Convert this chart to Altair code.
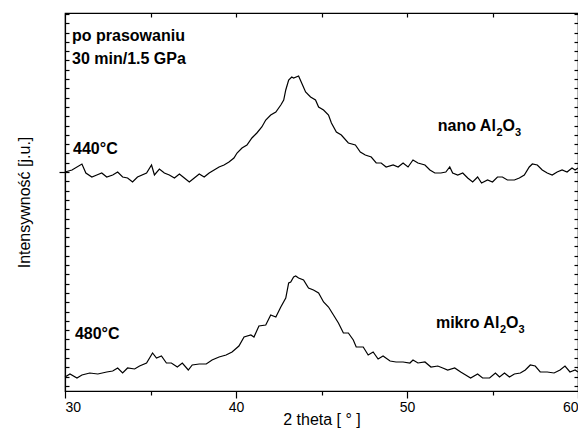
import altair as alt
import pandas as pd

# ---- data (2theta in degrees, intensity in arbitrary units) ----
theta_nano = [30.00, 30.41, 30.99, 31.22, 31.57, 31.86, 32.15, 32.44, 32.79, 33.08, 33.37, 33.66,
              33.95, 34.24, 34.77, 35.06, 35.23, 35.52, 35.81, 36.10, 36.40, 36.69, 36.98, 37.27,
              37.56, 37.85, 38.14, 38.43, 38.72, 39.01, 39.30, 39.59, 39.88, 40.06, 40.35, 40.64,
              40.93, 41.22, 41.51, 41.74, 42.03, 42.33, 42.62, 42.79, 42.91, 43.08, 43.26, 43.37,
              43.66, 43.84, 44.07, 44.36, 44.65, 44.83, 45.12, 45.41, 45.58, 45.87, 46.16, 46.57,
              46.98, 47.27, 47.56, 47.91, 48.20, 48.49, 48.78, 49.19, 49.48, 49.77, 50.06, 50.35,
              50.64, 51.05, 51.34, 51.63, 51.98, 52.27, 52.50, 52.67, 52.97, 53.26, 53.55, 53.84,
              54.13, 54.36, 54.71, 55.00, 55.29, 55.58, 55.87, 56.28, 56.57, 56.86, 57.15, 57.33,
              57.62, 57.91, 58.20, 58.49, 58.78, 59.07, 59.36, 59.65, 59.83, 60.00]
int_nano = [219, 221, 227, 218, 214, 216, 218, 214, 216, 219, 214, 213,
            209, 214, 218, 226, 216, 222, 218, 216, 213, 217, 213, 209,
            213, 217, 214, 218, 221, 224, 226, 229, 233, 238, 243, 246,
            253, 258, 264, 271, 276, 279, 286, 291, 301, 311, 314, 313,
            315, 308, 299, 294, 291, 284, 281, 276, 268, 259, 256, 248,
            246, 239, 236, 234, 228, 228, 224, 226, 224, 228, 224, 231,
            228, 226, 221, 218, 218, 219, 224, 218, 216, 218, 213, 209,
            214, 208, 211, 209, 214, 214, 211, 211, 213, 216, 224, 227,
            226, 221, 218, 216, 219, 221, 219, 223, 221, 223]

theta_mikro = [30.00, 30.29, 30.70, 30.99, 31.45, 31.92, 32.44, 32.79, 33.08, 33.37, 33.66, 34.07,
               34.36, 34.77, 35.12, 35.35, 35.64, 35.93, 36.22, 36.57, 36.86, 37.21, 37.44, 37.85,
               38.26, 38.60, 39.01, 39.42, 39.77, 40.17, 40.47, 40.87, 41.05, 41.34, 41.74, 42.03,
               42.33, 42.62, 42.91, 43.08, 43.20, 43.37, 43.49, 43.66, 43.95, 44.24, 44.53, 44.83,
               45.12, 45.41, 45.70, 45.99, 46.28, 46.57, 46.86, 47.03, 47.44, 47.73, 48.02, 48.31,
               48.60, 49.01, 49.36, 49.77, 50.17, 50.35, 50.64, 51.05, 51.40, 51.80, 52.09, 52.38,
               52.79, 53.14, 53.43, 53.72, 54.13, 54.42, 54.83, 55.17, 55.41, 55.70, 55.99, 56.28,
               56.63, 56.92, 57.21, 57.50, 57.79, 58.20, 58.60, 58.95, 59.24, 59.53, 59.83, 60.00]
int_mikro = [14, 17, 13, 16, 18, 17, 19, 20, 23, 18, 23, 22,
             25, 28, 38, 33, 35, 28, 28, 24, 28, 21, 26, 27,
             27, 31, 34, 36, 39, 45, 54, 56, 54, 65, 66, 76,
             74, 84, 93, 108, 109, 114, 115, 113, 111, 103, 101, 98,
             89, 84, 76, 68, 58, 58, 51, 44, 44, 36, 39, 32,
             35, 30, 29, 29, 28, 31, 28, 29, 24, 25, 23, 21,
             23, 19, 16, 13, 17, 13, 13, 18, 14, 18, 14, 17,
             18, 21, 26, 25, 19, 19, 18, 21, 25, 19, 21, 19]

series_names = ["nano", "mikro"]

# axis tick values
x_major = [30, 40, 50, 60]
x_minor = [35, 45, 55]
x_top = [35, 40, 45, 50, 55]
y_major = [219]
y_minor = [round(219 + 9.3 * k, 1) for k in range(-23, 18)]

# annotations: plain labels
label_text = ["po prasowaniu", "30 min/1.5 GPa", "440°C", "480°C"]
label_x = [30.41, 30.41, 30.47, 30.58]
label_y = [350, 327, 237, 52]

# annotations with chemical formula (prefix, subscripts drawn smaller and lower)
formula_prefix = ["nano Al", "mikro Al"]
formula_x = [51.80, 51.69]
formula_y = [260, 63]

PLOT_W, PLOT_H = 513, 378
FONT = "Liberation Sans"
MAIN_SIZE, SUB_SIZE, SUB_DROP = 16, 11, 5

# Arial/Liberation Sans Bold advance widths (per 1000 em)
BOLD_W = {"n": 611, "a": 556, "o": 611, " ": 278, "A": 722, "l": 278, "m": 889, "i": 278,
          "k": 556, "r": 389, "O": 778, "2": 556, "3": 556}


def text_w(s, size):
    return sum(BOLD_W[c] for c in s) * size / 1000.0


px_per_deg = PLOT_W / 30.0
main_rows = [dict(text=t, theta=x, intensity=y) for t, x, y in zip(label_text, label_x, label_y)]
sub_rows = []
for pre, x0, y0 in zip(formula_prefix, formula_x, formula_y):
    w1 = text_w(pre, MAIN_SIZE)
    w2 = text_w("2", SUB_SIZE)
    w3 = text_w("O", MAIN_SIZE)
    main_rows.append(dict(text=pre, theta=x0, intensity=y0))
    sub_rows.append(dict(text="2", theta=x0 + w1 / px_per_deg, intensity=y0 - SUB_DROP))
    main_rows.append(dict(text="O", theta=x0 + (w1 + w2) / px_per_deg, intensity=y0))
    sub_rows.append(dict(text="3", theta=x0 + (w1 + w2 + w3) / px_per_deg, intensity=y0 - SUB_DROP))

df = pd.concat([
    pd.DataFrame({"theta": theta_nano, "intensity": int_nano, "series": series_names[0]}),
    pd.DataFrame({"theta": theta_mikro, "intensity": int_mikro, "series": series_names[1]}),
])
main_df = pd.DataFrame(main_rows)
sub_df = pd.DataFrame(sub_rows)

xscale = alt.Scale(domain=[30, 60], nice=False, zero=False)
yscale = alt.Scale(domain=[0, 378], nice=False, zero=False)

common = dict(grid=False, domainColor="black", tickColor="black", labelColor="black",
              titleColor="black", labelFont=FONT, titleFont=FONT, tickWidth=1.2, domainWidth=1.2)

lines = alt.Chart(df).mark_line(color="black", strokeWidth=1.2).encode(
    x=alt.X("theta:Q", scale=xscale,
            axis=alt.Axis(orient="bottom", values=x_major, tickSize=7, labelPadding=2,
                          labelFontSize=14, title="2 theta  [ ° ]", titleFontSize=16,
                          titleFontWeight="normal", titleY=33, titleBaseline="alphabetic",
                          **common)),
    y=alt.Y("intensity:Q", scale=yscale,
            axis=alt.Axis(orient="left", values=y_major, tickSize=6, labels=False,
                          title="Intensywność [j.u.]", titleFontSize=16, titleFontWeight="normal",
                          titleX=-36, titleY=189, titleBaseline="alphabetic", **common)),
    detail="series:N",
)

texts = alt.Chart(main_df).mark_text(align="left", baseline="alphabetic", font=FONT,
                                     fontSize=MAIN_SIZE, fontWeight="bold", color="black").encode(
    x=alt.X("theta:Q", scale=xscale,
            axis=alt.Axis(orient="bottom", values=x_minor, tickSize=4, labels=False,
                          domain=False, title="", **common)),
    y=alt.Y("intensity:Q", scale=yscale,
            axis=alt.Axis(orient="left", values=y_minor, tickSize=4, offset=-4, labels=False,
                          domain=False, title="", **common)),
    text="text:N",
)

subs = alt.Chart(sub_df).mark_text(align="left", baseline="alphabetic", font=FONT,
                                   fontSize=SUB_SIZE, fontWeight="bold", color="black").encode(
    x=alt.X("theta:Q", scale=xscale,
            axis=alt.Axis(orient="top", values=x_top, tickSize=4, offset=-4, labels=False,
                          domain=False, title="", **common)),
    y=alt.Y("intensity:Q", scale=yscale,
            axis=alt.Axis(orient="right", values=y_minor, tickSize=4, offset=-4, labels=False,
                          domain=False, title="", **common)),
    text="text:N",
)

chart = alt.layer(lines, texts, subs).resolve_axis(
    x="independent", y="independent"
).properties(
    width=PLOT_W, height=PLOT_H,
    autosize=alt.AutoSizeParams(type="none"),
    padding={"left": 57, "top": 5, "right": 0, "bottom": 38},
    background="white",
).configure_view(stroke="black", strokeWidth=1.2)

chart.save("out.html", embed_options={"renderer": "svg", "actions": False})
